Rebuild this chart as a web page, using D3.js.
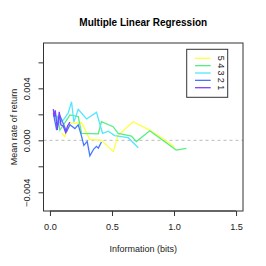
<!DOCTYPE html>
<html>
<head>
<meta charset="utf-8">
<script src="https://cdn.jsdelivr.net/npm/d3@7"></script>
<style>
  body { margin: 0; background: #fff; }
  text { font-family: "Liberation Sans", Arial, sans-serif; }
</style>
</head>
<body>
<div id="chart"></div>
<script>
// series: [information (bits), mean rate of return]
const names = ['5', '4', '3', '2', '1'];
const colors = ['#ffff40', '#55ee80', '#55e5ff', '#4477ff', '#7744ff'];
const series5 = [[0.094, 0.00054], [0.12, 0.00028], [0.161, 0.0013], [0.255, 0.00135], [0.32, 0.00008],
  [0.415, 0.0], [0.51, -0.00087], [0.55, 0.0004], [0.67, 0.00143], [0.80, 0.0008], [0.88, 0.00033], [1.005, -0.0005]];
const series4 = [[0.06, 0.0019], [0.08, 0.00079], [0.134, 0.00156], [0.161, 0.00195], [0.228, 0.00182], [0.255, 0.00054],
  [0.389, 0.0005], [0.415, 0.00143], [0.509, 0.00105], [0.55, 0.00054], [0.657, 0.00033], [0.697, -0.0001],
  [0.804, 0.00074], [1.018, -0.00075], [1.099, -0.00062]];
const series3 = [[0.04, 0.0021], [0.067, 0.0013], [0.107, 0.00156], [0.147, 0.0021], [0.174, 0.00297], [0.193, 0.0014],
  [0.228, 0.00238], [0.295, 0.00164], [0.375, 0.00215], [0.424, 0.00054], [0.47, 0.0007], [0.522, 0.00036],
  [0.63, 0.0002], [0.712, -0.00057]];
const series2 = [[0.027, 0.0021], [0.054, 0.00079], [0.08, 0.0019], [0.107, 0.0013], [0.134, 0.00066], [0.161, 0.0012],
  [0.201, 0.0009], [0.228, 0.0012], [0.255, 0.0003], [0.273, -0.00039], [0.3, -0.00008], [0.322, -0.0012],
  [0.353, -0.00067], [0.375, -0.00046], [0.39, -0.0006], [0.415, -0.00013]];
const series1 = [[0.027, 0.0024], [0.035, 0.0018], [0.043, 0.0023], [0.059, 0.0008], [0.075, 0.0022], [0.088, 0.0012],
  [0.107, 0.0011], [0.126, 0.0006], [0.142, 0.0011], [0.161, 0.0014]];
const allSeries = [series5, series4, series3, series2, series1];
const xTicks = [0, 0.5, 1, 1.5];
const yTicks = [-0.004, -0.002, 0, 0.002, 0.004, 0.006];
const yLabelled = [-0.004, 0, 0.004];

const width = 266, height = 266;
const margin = { top: 43, right: 23, bottom: 55, left: 43.5 };

const svg = d3.select('#chart').append('svg')
    .attr('width', width)
    .attr('height', height);

const x = d3.scaleLinear()
    .domain([-0.052, 1.556])
    .range([margin.left, width - margin.right]);

const y = d3.scaleLinear()
    .domain([-0.00544, 0.00749])
    .range([height - margin.bottom, margin.top]);

// zero reference line
svg.append('line')
    .attr('x1', x.range()[0]).attr('x2', x.range()[1])
    .attr('y1', y(0)).attr('y2', y(0))
    .attr('stroke', '#bbb')
    .attr('stroke-dasharray', '3,3');

const line = d3.line()
    .x(d => x(d[0]))
    .y(d => y(d[1]));

svg.append('g')
    .selectAll('path')
    .data(allSeries)
    .enter().append('path')
    .attr('d', line)
    .attr('fill', 'none')
    .attr('stroke', (d, i) => colors[i])
    .attr('stroke-width', 1.3);

// plot frame
svg.append('rect')
    .attr('x', margin.left).attr('y', margin.top)
    .attr('width', width - margin.left - margin.right)
    .attr('height', height - margin.top - margin.bottom)
    .attr('fill', 'none')
    .attr('stroke', '#333')
    .attr('stroke-width', 1);

// x axis
const xAxis = svg.append('g')
    .attr('transform', 'translate(0,' + (height - margin.bottom) + ')')
    .call(d3.axisBottom(x).tickValues(xTicks).tickFormat(d3.format('.1f')).tickSize(5).tickPadding(7));
xAxis.select('.domain').attr('d', 'M' + x(0) + ',0H' + x(1.5));

// y axis
const yAxis = svg.append('g')
    .attr('transform', 'translate(' + margin.left + ',0)')
    .call(d3.axisLeft(y).tickValues(yTicks).tickSize(5)
        .tickFormat(d => yLabelled.some(v => Math.abs(v - d) < 1e-9) ? d3.format('.3f')(d).replace('-', '\u2212') : ''));
yAxis.select('.domain').attr('d', 'M0,' + y(-0.004) + 'V' + y(0.006));
yAxis.selectAll('.tick text')
    .attr('transform', 'rotate(-90)')
    .attr('x', 0).attr('y', -14)
    .attr('dy', 0)
    .attr('text-anchor', 'middle');

svg.selectAll('.tick text').attr('font-size', 9.2).attr('fill', '#222')
    .style('font-family', '"Liberation Sans", Arial, sans-serif');
svg.selectAll('.tick line, .domain').attr('stroke', '#333');

// title and axis titles
svg.append('text')
    .attr('x', (margin.left + width - margin.right) / 2)
    .attr('y', 26)
    .attr('text-anchor', 'middle')
    .attr('font-size', 10)
    .attr('font-weight', 'bold')
    .text('Multiple Linear Regression');

svg.append('text')
    .attr('x', (margin.left + width - margin.right) / 2)
    .attr('y', 252)
    .attr('text-anchor', 'middle')
    .attr('font-size', 9)
    .attr('fill', '#222')
    .text('Information (bits)');

svg.append('text')
    .attr('transform', 'translate(17,' + ((margin.top + height - margin.bottom) / 2) + ') rotate(-90)')
    .attr('text-anchor', 'middle')
    .attr('font-size', 9)
    .attr('fill', '#222')
    .text('Mean rate of return');

// legend
const legend = svg.append('g').attr('transform', 'translate(186.7,49.3)');
legend.append('rect')
    .attr('width', 41).attr('height', 48)
    .attr('fill', '#fff')
    .attr('stroke', '#333');
const items = legend.selectAll('.item')
    .data(names)
    .enter().append('g')
    .attr('transform', (d, i) => 'translate(0,' + (9 + i * 7.35) + ')');
items.append('line')
    .attr('x1', 8.3).attr('x2', 24)
    .attr('stroke', (d, i) => colors[i])
    .attr('stroke-width', 1.3);
items.append('text')
    .attr('transform', 'translate(34,0) rotate(90)')
    .attr('text-anchor', 'middle')
    .attr('dy', '0.35em')
    .attr('font-size', 9)
    .attr('fill', '#222')
    .text(d => d);
</script>
</body>
</html>
